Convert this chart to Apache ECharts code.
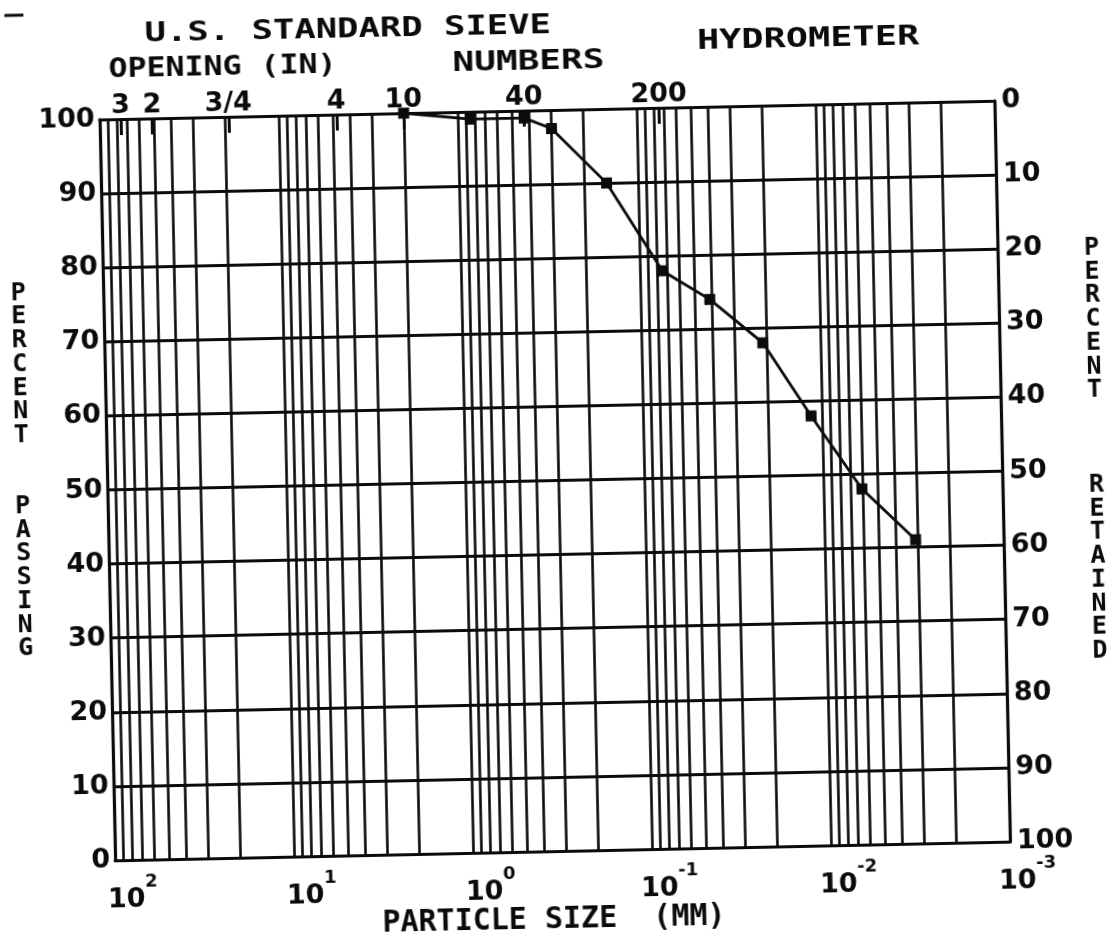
<!DOCTYPE html>
<html>
<head>
<meta charset="utf-8">
<title>Grain Size Distribution</title>
<script src="https://cdn.jsdelivr.net/npm/echarts@6/dist/echarts.min.js"></script>
<style>
  html, body { margin: 0; padding: 0; background: #ffffff; overflow: hidden; }
  #chart { width: 1115px; height: 935px; transform: rotate(-1.2deg); transform-origin: 50% 50%; }
</style>
</head>
<body>
<div id="chart"></div>
<script>
// Grain-size distribution: percent passing vs particle diameter (mm)
const particleSizeMM = [2.0, 0.85, 0.425, 0.30, 0.15, 0.075, 0.041, 0.021, 0.0115, 0.0061, 0.0031];
const percentPassing = [100, 99, 99, 97.5, 90, 78, 74, 68, 58, 48, 41];

// U.S. standard sieve openings (mm) marked along the top edge, with their labels
const sieveOpeningsMM = [76.2, 50.8, 19.05, 4.75, 2.0, 0.425, 0.075];
const sieveLabels = ['3', '2', '3/4', '4', '10', '40', '200'];

// Decades of the particle-size axis (powers of ten) and log-grid mantissas
const decadeExponents = [2, 1, 0, -1, -2, -3];
const gridMantissas = [1, 2, 3, 4, 5, 6, 7, 8, 9];

// Stacked axis titles, one letter per line
const leftTitleLines = ['P', 'E', 'R', 'C', 'E', 'N', 'T', '', '', 'P', 'A', 'S', 'S', 'I', 'N', 'G'];
const rightTitleLines = ['P', 'E', 'R', 'C', 'E', 'N', 'T', '', '', '', 'R', 'E', 'T', 'A', 'I', 'N', 'E', 'D'];

const INK = '#0b0b0b';
const NUM_FONT = 'DejaVu Sans';
const TXT_FONT = 'DejaVu Sans Mono';

const decadeValues = decadeExponents.map(e => Number(Math.pow(10, e).toPrecision(6)));
const logGridValues = [];
decadeExponents.forEach(e => {
  if (e === decadeExponents[0]) { logGridValues.push(decadeValues[0]); return; }
  gridMantissas.forEach(m => logGridValues.push(Number((m * Math.pow(10, e)).toPrecision(6))));
});

const seriesData = particleSizeMM.map((d, i) => [d, percentPassing[i]]);

function sieveLabel(v) {
  for (let i = 0; i < sieveOpeningsMM.length; i++) {
    if (Math.abs(sieveOpeningsMM[i] - v) / sieveOpeningsMM[i] < 1e-6) return sieveLabels[i];
  }
  return '';
}

const numStyle = { color: INK, fontFamily: NUM_FONT, fontWeight: 'bold', fontSize: 27 };

function headerText(x, y, text, sx) {
  return {
    type: 'text', x: x, y: y, scaleX: sx, scaleY: 1, silent: true,
    style: {
      text: text, x: 0, y: 0, fill: INK,
      font: 'bold 27px "' + TXT_FONT + '"',
      align: 'center', verticalAlign: 'middle',
      textAlign: 'center', textVerticalAlign: 'middle'
    }
  };
}

function stackedText(x, y, lines) {
  return {
    type: 'text', x: x, y: y, silent: true,
    style: {
      text: lines.join('\n'), x: 0, y: 0, fill: INK,
      font: 'bold 25px "' + TXT_FONT + '"', lineHeight: 23.7,
      align: 'center', verticalAlign: 'middle',
      textAlign: 'center', textVerticalAlign: 'middle'
    }
  };
}

const chart = echarts.init(document.getElementById('chart'), null, { renderer: 'canvas' });

chart.setOption({
  animation: false,
  backgroundColor: '#ffffff',
  grid: { left: 107, right: 113, top: 110, bottom: 84, containLabel: false, outerBoundsMode: 'none' },
  xAxis: [
    {
      type: 'log', logBase: 10, min: 0.001, max: 100, inverse: true, position: 'bottom',
      axisLine: { show: true, onZero: false, lineStyle: { color: INK, width: 3 } },
      axisTick: { show: false, customValues: logGridValues },
      minorTick: { show: false }, minorSplitLine: { show: false },
      splitLine: { show: true, lineStyle: { color: INK, width: 2.6 } },
      axisLabel: {
        customValues: decadeValues, margin: 13, padding: [0, 0, 0, 34], align: 'center',
        formatter: v => '{b|10}{s|' + Math.round(Math.log10(v)) + '}',
        rich: {
          b: { color: INK, fontFamily: NUM_FONT, fontWeight: 'bold', fontSize: 27, lineHeight: 40, verticalAlign: 'bottom' },
          s: { color: INK, fontFamily: NUM_FONT, fontWeight: 'bold', fontSize: 18, lineHeight: 16, verticalAlign: 'top' }
        }
      },
      name: 'PARTICLE SIZE  (MM)', nameLocation: 'middle', nameGap: 54, nameMoveOverlap: false,
      nameTextStyle: { color: INK, fontFamily: TXT_FONT, fontWeight: 'bold', fontSize: 30, padding: [0, 20, 0, 0] }
    },
    {
      type: 'log', logBase: 10, min: 0.001, max: 100, inverse: true, position: 'top',
      axisLine: { show: true, onZero: false, lineStyle: { color: INK, width: 3.2 } },
      axisTick: { show: true, inside: true, length: 16, customValues: sieveOpeningsMM, lineStyle: { color: INK, width: 3 } },
      minorTick: { show: false }, splitLine: { show: false },
      axisLabel: Object.assign({ customValues: sieveOpeningsMM, margin: 0, formatter: sieveLabel }, numStyle)
    }
  ],
  yAxis: [
    {
      type: 'value', min: 0, max: 100, interval: 10, position: 'left',
      axisLine: { show: true, onZero: false, lineStyle: { color: INK, width: 3.2 } },
      axisTick: { show: false },
      splitLine: { show: true, lineStyle: { color: INK, width: 3.2 } },
      axisLabel: Object.assign({ margin: 5 }, numStyle)
    },
    {
      type: 'value', min: 0, max: 100, interval: 10, position: 'right', inverse: true,
      axisLine: { show: true, onZero: false, lineStyle: { color: INK, width: 3.2 } },
      axisTick: { show: false },
      splitLine: { show: false },
      axisLabel: Object.assign({ margin: 7 }, numStyle)
    }
  ],
  series: [
    {
      type: 'line', xAxisIndex: 0, yAxisIndex: 0, data: seriesData,
      symbol: 'rect', symbolSize: 11, showAllSymbol: true,
      itemStyle: { color: INK },
      lineStyle: { color: INK, width: 2.8 },
      z: 5
    }
  ],
  graphic: [
    { type: 'line', silent: true, shape: { x1: 14, y1: 4, x2: 33, y2: 4 }, style: { stroke: INK, lineWidth: 3 } },
    headerText(357, 26, 'U.S. STANDARD SIEVE', 1.316),
    headerText(231, 61, 'OPENING (IN)', 1.17),
    headerText(537, 62, 'NUMBERS', 1.336),
    headerText(817, 45, 'HYDROMETER', 1.367),
    stackedText(22, 460, leftTitleLines),
    stackedText(1096, 461, rightTitleLines)
  ]
});
</script>
</body>
</html>
